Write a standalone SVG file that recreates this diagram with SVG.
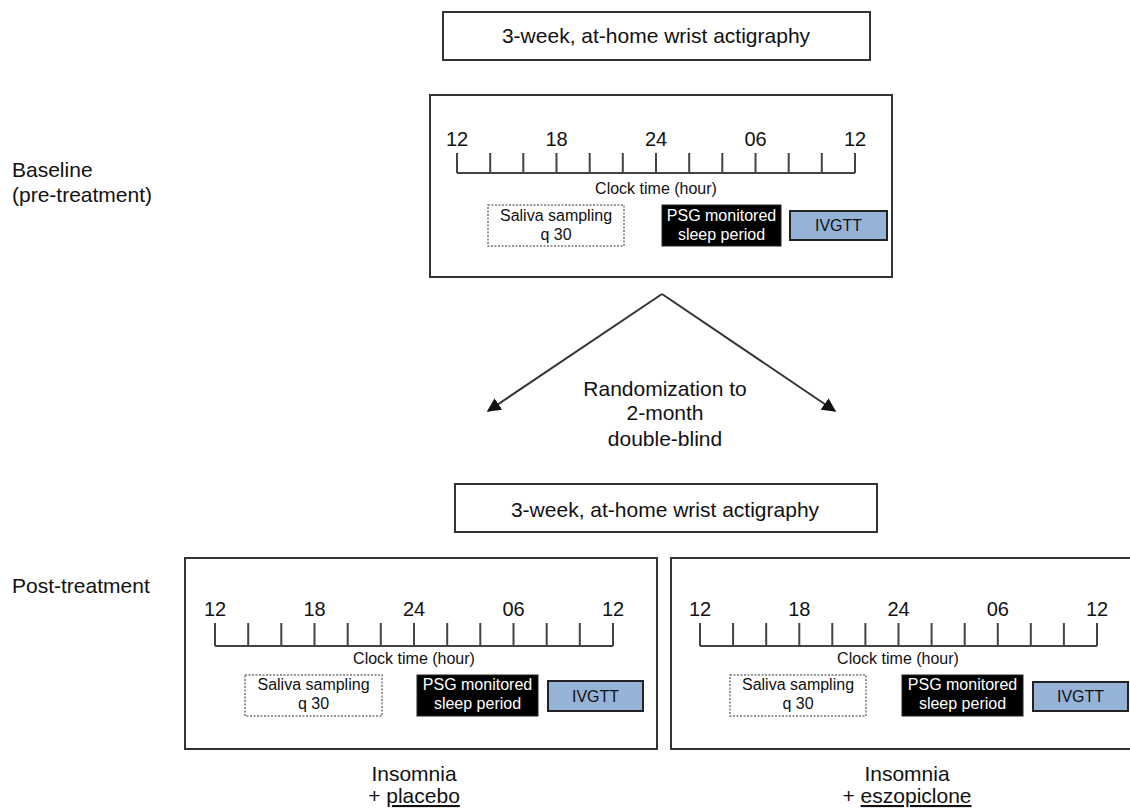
<svg xmlns="http://www.w3.org/2000/svg" width="1130" height="810" viewBox="0 0 1130 810">
<defs>
<style>
text{font-family:"Liberation Sans",Arial,sans-serif;fill:#111}
.big{font-size:21px}
.tick{font-size:20px;text-anchor:middle}
.sm{font-size:16px;text-anchor:middle}
.mid{text-anchor:middle}
.frame{fill:#fff;stroke:#333;stroke-width:2}
.axis{fill:none;stroke:#444;stroke-width:2}
.saliva{fill:#fff;stroke:#777;stroke-width:1.5;stroke-dasharray:2 1.5}
.psg{fill:#000;stroke:#222;stroke-width:1}
.iv{fill:#95b3d7;stroke:#222;stroke-width:2}
.wt{fill:#fff}
.conn{fill:none;stroke:#333;stroke-width:2}
</style>
<marker id="ah" viewBox="0 0 10 10" refX="9" refY="5" markerWidth="7" markerHeight="7" orient="auto" markerUnits="strokeWidth">
<path d="M0,0 L10,5 L0,10 z" fill="#111"/>
</marker>
</defs>
<rect width="1130" height="810" fill="#fff"/>

<g id="label-baseline">
<text class="big" x="12" y="177">Baseline</text>
<text class="big" x="12" y="202">(pre-treatment)</text>
</g>
<g id="label-post">
<text class="big" x="12" y="593">Post-treatment</text>
</g>

<g id="actigraphy-top">
<rect class="frame" x="443" y="12" width="427" height="48"/>
<text class="big mid" x="656" y="43">3-week, at-home wrist actigraphy</text>
</g>

<g id="baseline-panel">
<rect class="frame" x="430" y="95" width="462" height="182"/>
<path class="axis" d="M457,173 H855 M457,153 V173 M490.2,153 V173 M523.3,153 V173 M556.5,153 V173 M589.7,153 V173 M622.8,153 V173 M656,153 V173 M689.2,153 V173 M722.3,153 V173 M755.5,153 V173 M788.7,153 V173 M821.8,153 V173 M855,153 V173"/>
<text class="tick" x="457" y="146">12</text>
<text class="tick" x="556.5" y="146">18</text>
<text class="tick" x="656" y="146">24</text>
<text class="tick" x="755.5" y="146">06</text>
<text class="tick" x="855" y="146">12</text>
<text class="sm" x="656" y="194">Clock time (hour)</text>
<rect class="saliva" x="488" y="205" width="136" height="41"/>
<text class="sm" x="556" y="221">Saliva sampling</text>
<text class="sm" x="556" y="240">q 30</text>
<rect class="psg" x="662" y="205" width="119" height="41"/>
<text class="sm wt" x="721.5" y="221">PSG monitored</text>
<text class="sm wt" x="721.5" y="240">sleep period</text>
<rect class="iv" x="790" y="211" width="97" height="29"/>
<text class="sm" x="838.5" y="231">IVGTT</text>
</g>

<g id="connectors">
<path class="conn" d="M662,294 L488,411" marker-end="url(#ah)"/>
<path class="conn" d="M662,294 L835,411" marker-end="url(#ah)"/>
</g>

<g id="randomization">
<text class="big mid" x="665" y="396">Randomization to</text>
<text class="big mid" x="665" y="420">2-month</text>
<text class="big mid" x="665" y="446">double-blind</text>
</g>

<g id="actigraphy-bottom">
<rect class="frame" x="455" y="484" width="422" height="48"/>
<text class="big mid" x="665" y="517">3-week, at-home wrist actigraphy</text>
</g>

<g id="placebo-panel">
<rect class="frame" x="185" y="558" width="472" height="191"/>
<path class="axis" d="M215,646 H613 M215,623 V646 M248.2,623 V646 M281.3,623 V646 M314.5,623 V646 M347.7,623 V646 M380.8,623 V646 M414,623 V646 M447.2,623 V646 M480.3,623 V646 M513.5,623 V646 M546.7,623 V646 M579.8,623 V646 M613,623 V646"/>
<text class="tick" x="215" y="616">12</text>
<text class="tick" x="314.5" y="616">18</text>
<text class="tick" x="414" y="616">24</text>
<text class="tick" x="513.5" y="616">06</text>
<text class="tick" x="613" y="616">12</text>
<text class="sm" x="414" y="664">Clock time (hour)</text>
<rect class="saliva" x="245" y="675" width="137" height="41"/>
<text class="sm" x="313.5" y="690">Saliva sampling</text>
<text class="sm" x="313.5" y="709">q 30</text>
<rect class="psg" x="417" y="675" width="121" height="41"/>
<text class="sm wt" x="477.5" y="690">PSG monitored</text>
<text class="sm wt" x="477.5" y="709">sleep period</text>
<rect class="iv" x="548" y="681" width="95" height="30"/>
<text class="sm" x="595.5" y="702">IVGTT</text>
</g>

<g id="eszopiclone-panel">
<rect class="frame" x="671" y="558" width="470" height="191"/>
<path class="axis" d="M700,646 H1097 M700,623 V646 M733.1,623 V646 M766.2,623 V646 M799.3,623 V646 M832.3,623 V646 M865.4,623 V646 M898.5,623 V646 M931.6,623 V646 M964.7,623 V646 M997.8,623 V646 M1030.8,623 V646 M1063.9,623 V646 M1097,623 V646"/>
<text class="tick" x="700" y="616">12</text>
<text class="tick" x="799.3" y="616">18</text>
<text class="tick" x="898.5" y="616">24</text>
<text class="tick" x="997.8" y="616">06</text>
<text class="tick" x="1097" y="616">12</text>
<text class="sm" x="898" y="664">Clock time (hour)</text>
<rect class="saliva" x="730" y="675" width="136" height="41"/>
<text class="sm" x="798" y="690">Saliva sampling</text>
<text class="sm" x="798" y="709">q 30</text>
<rect class="psg" x="902" y="675" width="121" height="41"/>
<text class="sm wt" x="962.5" y="690">PSG monitored</text>
<text class="sm wt" x="962.5" y="709">sleep period</text>
<rect class="iv" x="1033" y="682" width="95" height="29"/>
<text class="sm" x="1080.5" y="702">IVGTT</text>
</g>

<g id="label-placebo">
<text class="big mid" x="414" y="781">Insomnia</text>
<text class="big mid" x="414" y="803">+ <tspan text-decoration="underline">placebo</tspan></text>
</g>
<g id="label-eszopiclone">
<text class="big mid" x="907" y="781">Insomnia</text>
<text class="big mid" x="907" y="803">+ <tspan text-decoration="underline">eszopiclone</tspan></text>
</g>
</svg>
